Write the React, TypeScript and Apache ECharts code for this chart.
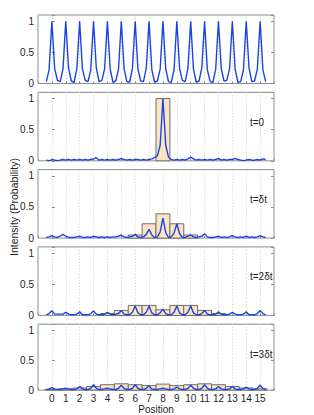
import React, { useEffect, useRef } from "react";
import * as echarts from "echarts";

// ---------- data ----------
const POSITIONS = [0, 1, 2, 3, 4, 5, 6, 7, 8, 9, 10, 11, 12, 13, 14, 15];
// sampling offsets of the measured intensity around each lattice site
const OFFSETS = [-0.4, -0.2, 0, 0.2, 0.4];

const LATTICE_INTENSITY = [
  0.03, 0.22, 1.0, 0.24, 0.05,
  0.03, 0.23, 1.0, 0.25, 0.04,
  0.02, 0.24, 1.0, 0.23, 0.05,
  0.03, 0.22, 1.0, 0.25, 0.03,
  0.05, 0.24, 1.0, 0.23, 0.02,
  0.04, 0.23, 1.0, 0.24, 0.03,
  0.02, 0.24, 1.0, 0.23, 0.04,
  0.03, 0.25, 1.0, 0.22, 0.02,
  0.04, 0.23, 1.0, 0.24, 0.03,
  0.02, 0.22, 1.0, 0.24, 0.05,
  0.03, 0.24, 1.0, 0.23, 0.02,
  0.04, 0.25, 1.0, 0.22, 0.03,
  0.02, 0.23, 1.0, 0.24, 0.04,
  0.05, 0.24, 1.0, 0.23, 0.02,
  0.03, 0.22, 1.0, 0.25, 0.03,
  0.04, 0.23, 1.0, 0.22, 0.03,
];

const T0_INTENSITY = [
  0.01, 0.0, 0.02, 0.01, 0.0,
  0.01, 0.02, 0.01, 0.02, 0.01,
  0.02, 0.01, 0.02, 0.01, 0.02,
  0.01, 0.02, 0.03, 0.05, 0.01,
  0.02, 0.01, 0.02, 0.01, 0.02,
  0.01, 0.02, 0.04, 0.02, 0.01,
  0.02, 0.01, 0.02, 0.02, 0.01,
  0.02, 0.01, 0.02, 0.03, 0.05,
  0.08, 0.25, 1.0, 0.25, 0.06,
  0.02, 0.01, 0.02, 0.01, 0.02,
  0.01, 0.03, 0.06, 0.03, 0.01,
  0.02, 0.01, 0.02, 0.01, 0.02,
  0.01, 0.02, 0.04, 0.01, 0.02,
  0.01, 0.02, 0.02, 0.04, 0.02,
  0.01, 0.0, 0.01, 0.02, 0.01,
  0.01, 0.02, 0.01, 0.03, 0.02,
];

const T1_INTENSITY = [
  0.01, 0.02, 0.04, 0.02, 0.01,
  0.03, 0.06, 0.03, 0.01, 0.01,
  0.01, 0.02, 0.03, 0.01, 0.01,
  0.02, 0.01, 0.03, 0.02, 0.01,
  0.02, 0.01, 0.02, 0.01, 0.02,
  0.02, 0.03, 0.05, 0.02, 0.01,
  0.02, 0.03, 0.06, 0.02, 0.01,
  0.02, 0.06, 0.14, 0.05, 0.01,
  0.02, 0.1, 0.32, 0.09, 0.01,
  0.02, 0.08, 0.23, 0.07, 0.01,
  0.01, 0.03, 0.05, 0.02, 0.01,
  0.02, 0.03, 0.07, 0.02, 0.01,
  0.01, 0.02, 0.03, 0.01, 0.02,
  0.01, 0.02, 0.04, 0.02, 0.01,
  0.02, 0.01, 0.03, 0.01, 0.02,
  0.01, 0.02, 0.04, 0.02, 0.01,
];

const T2_INTENSITY = [
  0.01, 0.03, 0.075, 0.02, 0.02,
  0.02, 0.02, 0.05, 0.02, 0.01,
  0.01, 0.02, 0.06, 0.01, 0.01,
  0.01, 0.03, 0.07, 0.02, 0.01,
  0.01, 0.02, 0.05, 0.02, 0.01,
  0.02, 0.03, 0.08, 0.02, 0.01,
  0.01, 0.05, 0.15, 0.04, 0.01,
  0.01, 0.05, 0.15, 0.04, 0.01,
  0.01, 0.04, 0.1, 0.03, 0.01,
  0.01, 0.05, 0.15, 0.04, 0.01,
  0.01, 0.05, 0.15, 0.04, 0.01,
  0.01, 0.03, 0.08, 0.02, 0.01,
  0.01, 0.02, 0.06, 0.02, 0.01,
  0.01, 0.02, 0.05, 0.02, 0.01,
  0.01, 0.02, 0.06, 0.01, 0.01,
  0.01, 0.03, 0.08, 0.03, 0.01,
];

const T3_INTENSITY = [
  0.01, 0.02, 0.04, 0.02, 0.01,
  0.01, 0.02, 0.03, 0.02, 0.01,
  0.01, 0.02, 0.06, 0.02, 0.01,
  0.01, 0.03, 0.09, 0.03, 0.01,
  0.01, 0.02, 0.03, 0.02, 0.01,
  0.01, 0.03, 0.08, 0.03, 0.01,
  0.01, 0.03, 0.09, 0.03, 0.01,
  0.01, 0.03, 0.07, 0.02, 0.01,
  0.01, 0.02, 0.03, 0.02, 0.01,
  0.01, 0.02, 0.05, 0.02, 0.01,
  0.01, 0.03, 0.08, 0.03, 0.01,
  0.01, 0.03, 0.09, 0.03, 0.01,
  0.01, 0.02, 0.06, 0.02, 0.01,
  0.01, 0.02, 0.06, 0.02, 0.01,
  0.01, 0.02, 0.05, 0.02, 0.01,
  0.01, 0.03, 0.08, 0.03, 0.01,
];

const T0_PROB = [0, 0, 0, 0, 0, 0, 0, 0, 1.0, 0, 0, 0, 0, 0, 0, 0];
const T1_PROB = [0, 0, 0, 0, 0, 0, 0.05, 0.23, 0.39, 0.23, 0.05, 0, 0, 0, 0, 0];
const T2_PROB = [0, 0, 0, 0, 0.03, 0.08, 0.16, 0.16, 0.09, 0.16, 0.16, 0.08, 0.03, 0, 0, 0];
const T3_PROB = [0.01, 0.02, 0.035, 0.06, 0.09, 0.105, 0.09, 0.075, 0.1, 0.075, 0.09, 0.105, 0.09, 0.06, 0.035, 0.02];

const TIME_LABELS = ["t=0", "t=\u03b4t", "t=2\u03b4t", "t=3\u03b4t"];
const Y_TICK_LABELS = ["0", "0.5", "1"];
const X_NAME = "Position";
const Y_NAME = "Intensity (Probability)";

// ---------- styling / layout ----------
const FONT = "'Liberation Sans', Arial, Helvetica, sans-serif";
const GRID_LEFT = 38;
const GRID_WIDTH = 236;
const GRID_TOPS = [15, 92.3, 169.6, 246.9, 324.2];
const GRID_HEIGHT = 68.5;
const BLUE = "#1a44e2";
const BORDER = "#8c8c8c";
const TEXT = "#1e1e1e";

function lineData(values: number[]) {
  const out: number[][] = [];
  POSITIONS.forEach((p, i) => {
    OFFSETS.forEach((o, j) => {
      out.push([p + o, values[i * OFFSETS.length + j]]);
    });
  });
  return out;
}

function barData(values: number[]) {
  return POSITIONS.map((p, i) => [p, values[i]]).filter((d) => d[1] > 0);
}

export default function App() {
  const ref = useRef<HTMLDivElement>(null);

  useEffect(() => {
    if (!ref.current) return;
    const chart = echarts.init(ref.current, undefined, { renderer: "svg" });

    const lines = [LATTICE_INTENSITY, T0_INTENSITY, T1_INTENSITY, T2_INTENSITY, T3_INTENSITY];
    const probs = [null, T0_PROB, T1_PROB, T2_PROB, T3_PROB];

    const grids = GRID_TOPS.map((top) => ({
      left: GRID_LEFT,
      width: GRID_WIDTH,
      top,
      height: GRID_HEIGHT,
      show: true,
      borderColor: BORDER,
      borderWidth: 1,
      backgroundColor: "#fff",
    }));

    const xAxes = GRID_TOPS.map((_, k) => ({
      type: "value",
      gridIndex: k,
      min: -1,
      max: 16,
      interval: 1,
      axisLine: { show: false },
      axisTick: { show: true, inside: true, length: 2, lineStyle: { color: BORDER } },
      splitLine: { show: true, lineStyle: { color: "#cfcfcf", type: [1, 2], width: 1 } },
      axisLabel: {
        show: k === GRID_TOPS.length - 1,
        margin: 3,
        fontSize: 10,
        fontFamily: FONT,
        color: TEXT,
        formatter: (v: number) => (v >= POSITIONS[0] && v <= POSITIONS[POSITIONS.length - 1] ? String(v) : ""),
      },
      name: k === GRID_TOPS.length - 1 ? X_NAME : "",
      nameLocation: "middle",
      nameGap: 13,
      nameTextStyle: { fontSize: 10, fontFamily: FONT, color: TEXT },
    }));

    const yAxes: any[] = [];
    GRID_TOPS.forEach((_, k) => {
      yAxes.push({
        type: "value",
        gridIndex: k,
        position: "left",
        min: 0,
        max: 1.1,
        interval: 0.5,
        axisLine: { show: false },
        axisTick: { show: true, inside: true, length: 3, lineStyle: { color: BORDER } },
        splitLine: { show: false },
        axisLabel: {
          margin: 4,
          fontSize: 10,
          fontFamily: FONT,
          color: TEXT,
          formatter: (v: number) => {
            const idx = Math.round(v / 0.5);
            return Math.abs(v - idx * 0.5) < 1e-6 && idx < Y_TICK_LABELS.length ? Y_TICK_LABELS[idx] : "";
          },
        },
      });
      yAxes.push({
        type: "value",
        gridIndex: k,
        position: "right",
        min: 0,
        max: 1.1,
        interval: 0.5,
        axisLine: { show: false },
        axisTick: { show: true, inside: true, length: 3, lineStyle: { color: BORDER } },
        splitLine: { show: false },
        axisLabel: { show: false },
      });
    });

    const series: any[] = [];
    GRID_TOPS.forEach((_, k) => {
      const p = probs[k];
      if (p) {
        series.push({
          type: "custom",
          xAxisIndex: k,
          yAxisIndex: k * 2,
          data: barData(p),
          encode: { x: 0, y: 1 },
          z: 2,
          renderItem: (params: any, api: any) => {
            const x = api.value(0);
            const y = api.value(1);
            const tl = api.coord([x - 0.5, y]);
            const br = api.coord([x + 0.5, 0]);
            return {
              type: "rect",
              shape: { x: tl[0], y: tl[1], width: br[0] - tl[0], height: br[1] - tl[1] },
              style: { fill: "#fce4c3", stroke: "#6e6e6e", lineWidth: 1 },
            };
          },
        });
      }
      series.push({
        type: "line",
        xAxisIndex: k,
        yAxisIndex: k * 2,
        data: lineData(lines[k]),
        showSymbol: false,
        symbol: "none",
        z: 3,
        lineStyle: { color: BLUE, width: 1.4 },
      });
    });

    const graphic: any[] = [
      {
        type: "text",
        x: 14,
        y: 207,
        rotation: Math.PI / 2,
        style: {
          text: Y_NAME,
          fontSize: 10.5,
          fontFamily: FONT,
          fill: TEXT,
          align: "center",
          verticalAlign: "middle",
        },
      },
    ];
    TIME_LABELS.forEach((t, i) => {
      graphic.push({
        type: "text",
        x: 250,
        y: GRID_TOPS[i + 1] + 30,
        z: 10,
        style: {
          text: t,
          fontSize: 10,
          fontFamily: FONT,
          fill: TEXT,
          align: "left",
          verticalAlign: "middle",
        },
      });
    });

    chart.setOption({
      animation: false,
      backgroundColor: "#fff",
      grid: grids,
      xAxis: xAxes,
      yAxis: yAxes,
      series,
      graphic,
    });

    return () => chart.dispose();
  }, []);

  return (
    <div
      ref={ref}
      style={{ position: "fixed", left: 0, top: 0, width: 314, height: 415, background: "#fff" }}
    />
  );
}
